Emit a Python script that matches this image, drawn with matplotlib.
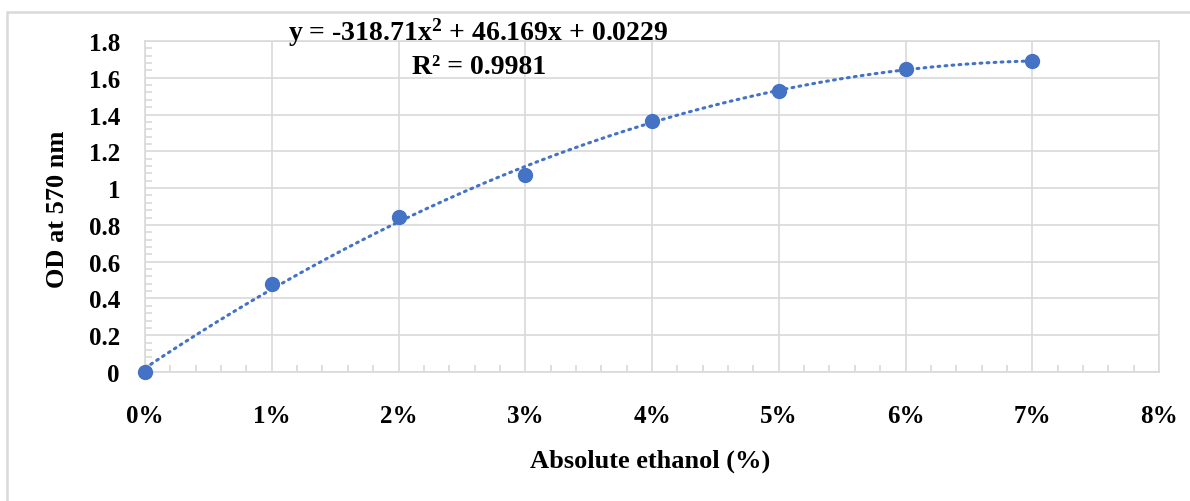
import numpy as np
import matplotlib.pyplot as plt
from matplotlib.patches import Rectangle
from matplotlib.ticker import MultipleLocator, PercentFormatter

# ethanol concentration (fraction) and optical density
ethanol = [0.0, 0.01, 0.02, 0.03, 0.04, 0.05, 0.06, 0.07]
od_570 = [0.0, 0.478, 0.845, 1.071, 1.365, 1.530, 1.648, 1.692]
y_ticks = [0, 0.2, 0.4, 0.6, 0.8, 1, 1.2, 1.4, 1.6, 1.8]
y_tick_labels = ['0', '0.2', '0.4', '0.6', '0.8', '1', '1.2', '1.4', '1.6', '1.8']
eq_text = 'y = -318.71x$^{2}$ + 46.169x + 0.0229'
r2_text = 'R² = 0.9981'

blue = '#4472C4'
grid_col = '#d9d9d9'

plt.rcParams['font.family'] = ['Liberation Serif', 'DejaVu Serif']
plt.rcParams['mathtext.fontset'] = 'custom'
plt.rcParams['mathtext.rm'] = 'Liberation Serif:bold'
plt.rcParams['mathtext.it'] = 'Liberation Serif:bold'

W, H = 1190, 502
fig = plt.figure(figsize=(W / 100, H / 100), dpi=100)
ax = fig.add_axes([145 / W, 1 - 373 / H, (1159 - 145) / W, (373 - 42) / H])

# outer chart frame (cut off at right/bottom like the reference)
fig.patches.append(Rectangle((7 / W, -0.05), 1.1, 1 - 13 / H + 0.05,
                             transform=fig.transFigure, fill=False,
                             edgecolor=grid_col, linewidth=1.8))

# polynomial trendline (order 2) over the data range
coef = np.polyfit(ethanol, od_570, 2)
xs = np.linspace(min(ethanol), max(ethanol), 200)
ax.plot(xs, np.polyval(coef, xs), color=blue, linewidth=2.2,
        linestyle=(0, (0.6, 1.7)), dash_capstyle='round', zorder=3)
ax.plot(ethanol, od_570, 'o', color=blue, markersize=10, zorder=4,
        clip_on=False)

ax.set_xlim(0, 0.08)
ax.set_ylim(0, 1.8)
ax.xaxis.set_major_locator(MultipleLocator(0.01))
ax.xaxis.set_minor_locator(MultipleLocator(0.002))
ax.xaxis.set_major_formatter(PercentFormatter(1.0, decimals=0))
ax.set_yticks(y_ticks)
ax.set_yticklabels(y_tick_labels)
ax.yaxis.set_minor_locator(MultipleLocator(0.04))

ax.grid(True, which='major', color=grid_col, linewidth=1.2)
ax.set_axisbelow(True)
for s in ax.spines.values():
    s.set_color(grid_col)
    s.set_linewidth(1.2)

ax.tick_params(which='major', length=0, labelsize=18)
ax.tick_params(axis='x', which='major', pad=23)
ax.tick_params(axis='y', which='major', pad=18)
ax.tick_params(which='minor', direction='in', length=5, color=grid_col, width=1.2)
for lab in ax.get_xticklabels() + ax.get_yticklabels():
    lab.set_fontweight('bold')

# axis titles placed where the reference has them
fig.text(650 / W, 1 - 461 / H, 'Absolute ethanol (%)', ha='center', va='center',
         fontsize=19, fontweight='bold')
fig.text(57 / W, 1 - 209 / H, 'OD at 570 nm', ha='center', va='center',
         rotation=90, fontsize=19, fontweight='bold')

fig.text(478 / W, 1 - 33 / H, eq_text, ha='center', va='center',
         fontsize=20, fontweight='bold')
fig.text(479 / W, 1 - 67 / H, r2_text, ha='center', va='center',
         fontsize=20, fontweight='bold')

fig.savefig('out.png', dpi=100)
